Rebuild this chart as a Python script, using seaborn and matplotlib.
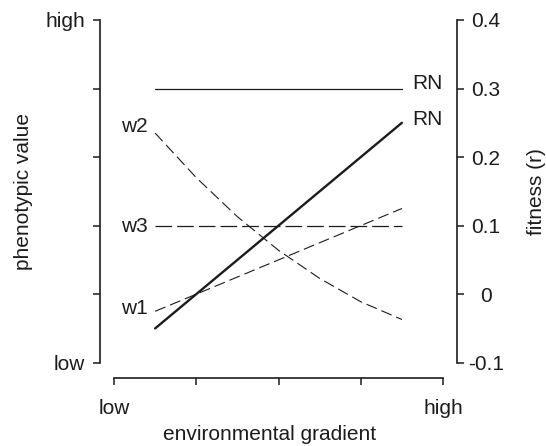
import matplotlib
matplotlib.use("Agg")
import matplotlib.pyplot as plt
import seaborn as sns
import pandas as pd

# Positions along the environmental gradient (0 = low ... 4 = high)
env = [0.5, 1.0, 1.5, 2.0, 2.5, 3.0, 3.5]

# Reaction norms (phenotypic value, drawn on the shared scale)
rn_flat = [0.30, 0.30, 0.30, 0.30, 0.30, 0.30, 0.30]
rn_plastic = [-0.05, 0.00, 0.05, 0.10, 0.15, 0.20, 0.25]

# Fitness (r) of the three strategies
w1 = [-0.025, 0.000, 0.025, 0.050, 0.075, 0.100, 0.125]
w2 = [0.235, 0.170, 0.113, 0.064, 0.023, -0.011, -0.037]
w3 = [0.10, 0.10, 0.10, 0.10, 0.10, 0.10, 0.10]

x_ticks = [0, 1, 2, 3, 4]
x_ticklabels = ["low", "", "", "", "high"]
y_ticks = [-0.1, 0.0, 0.1, 0.2, 0.3, 0.4]
pheno_ticklabels = ["low", "", "", "", "", "high"]
fitness_ticklabels = ["-0.1", "0", "0.1", "0.2", "0.3", "0.4"]

df = pd.DataFrame({"env": env, "rn_flat": rn_flat, "rn_plastic": rn_plastic,
                   "w1": w1, "w2": w2, "w3": w3})

ink = "#1c1c1c"
sns.set_style("ticks")
plt.rcParams.update({
    "font.family": ["Liberation Sans", "DejaVu Sans"],
    "font.size": 15,
    "lines.scale_dashes": False,
    "axes.linewidth": 1.2,
    "axes.edgecolor": ink,
    "xtick.color": ink,
    "ytick.color": ink,
    "xtick.major.width": 1.1,
    "ytick.major.width": 1.1,
    "text.color": ink,
    "axes.labelcolor": ink,
})

fig = plt.figure(figsize=(5.46, 4.46), dpi=100)
ax = fig.add_axes([100 / 546, (446 - 362.7) / 446, 357 / 546, 342.7 / 446])

sns.lineplot(data=df, x="env", y="rn_flat", ax=ax, color=ink, linewidth=0.9)
sns.lineplot(data=df, x="env", y="rn_plastic", ax=ax, color=ink, linewidth=1.7)
sns.lineplot(data=df, x="env", y="w3", ax=ax, color=ink, linewidth=0.9,
             linestyle=(0, (12, 3.6)))
sns.lineplot(data=df, x="env", y="w1", ax=ax, color=ink, linewidth=0.8,
             linestyle=(0, (8, 3.6)))
sns.lineplot(data=df, x="env", y="w2", ax=ax, color=ink, linewidth=0.8,
             linestyle=(0, (8, 3.6)))

ax.set_xlim(-0.1702, 4.170)
ax.set_ylim(-0.1, 0.4)

# Line labels
ax.text(3.62, 0.300, "RN", ha="left", va="baseline")
ax.text(3.62, 0.247, "RN", ha="left", va="baseline")
ax.text(0.413, 0.237, "w2", ha="right", va="baseline")
ax.text(0.413, 0.091, "w3", ha="right", va="baseline")
ax.text(0.413, -0.029, "w1", ha="right", va="baseline")

# Left axis: phenotypic value
ax.spines["top"].set_visible(False)
ax.spines["right"].set_visible(False)
ax.spines["bottom"].set_position(("outward", 11))
ax.spines["bottom"].set_bounds(0, 4)
ax.set_yticks(y_ticks, pheno_ticklabels)
ax.set_xticks(x_ticks, x_ticklabels)
ax.tick_params(axis="y", length=5, pad=5.5)
ax.tick_params(axis="x", length=5, pad=10)
ax.set_ylabel("phenotypic value")
ax.yaxis.set_label_coords(-0.188, 0.5)
ax.set_xlabel("environmental gradient")
ax.xaxis.set_label_coords(0.476, -0.183)

# Right axis: fitness
tw = ax.twinx()
tw.set_ylim(-0.1, 0.4)
for side in ("top", "left", "bottom"):
    tw.spines[side].set_visible(False)
tw.set_yticks(y_ticks, fitness_ticklabels)
for lbl in tw.get_yticklabels():
    lbl.set_horizontalalignment("center")
tw.tick_params(axis="y", length=5, pad=15.8)
tw.set_ylabel("fitness (r)")
tw.yaxis.set_label_coords(1.196, 0.5)

fig.savefig("out.png", dpi=100)
